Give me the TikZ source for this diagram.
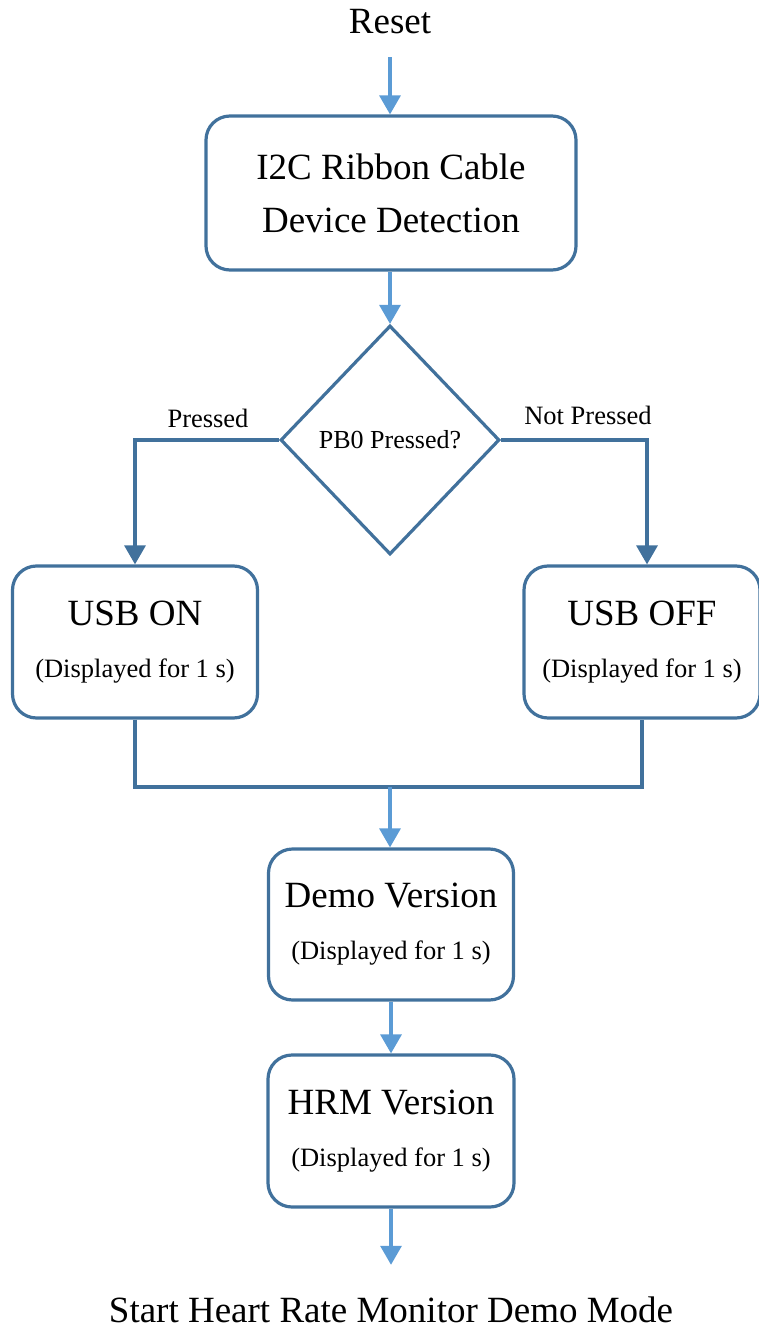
\documentclass[tikz,border=0pt]{standalone}
\usepackage{fontspec}
\setmainfont{Liberation Serif}
\usetikzlibrary{arrows.meta,shapes.geometric}
\definecolor{boxblue}{RGB}{65,113,156}
\definecolor{arrowblue}{RGB}{91,155,213}
\begin{document}
\begin{tikzpicture}[x=1pt,y=-1pt,
  box/.style={draw=boxblue, line width=3.2pt, rounded corners=24pt, fill=white,
    inner sep=0pt, align=center, font=\fontsize{26.5}{52}\selectfont},
  bigtext/.style={font=\fontsize{37}{53}\selectfont},
  smalltext/.style={font=\fontsize{26.5}{30}\selectfont, inner sep=0pt},
  decision/.style={draw=boxblue, line width=3.2pt, diamond, aspect=0.956,
    minimum width=219pt, minimum height=229pt, inner sep=0pt,
    font=\fontsize{26}{30}\selectfont},
  lightarrow/.style={draw=arrowblue, line width=3.2pt, -{Triangle[width=21pt,length=19pt]}},
  darkarrow/.style={draw=boxblue, line width=3.2pt, -{Triangle[width=21pt,length=19pt]}},
  darkline/.style={draw=boxblue, line width=3.2pt},
  ]
\useasboundingbox (0,0) rectangle (759,1329);

\node[bigtext, inner sep=0pt] (reset) at (390,22) {Reset};
\node[box, bigtext, minimum width=370pt, minimum height=154pt] (i2c) at (391,193)
  {I2C Ribbon Cable\\Device Detection};
\node[decision] (dec) at (390,440) {PB0 Pressed?};
\node[smalltext] (lp) at (208,418) {Pressed};
\node[smalltext] (lnp) at (588,415) {Not Pressed};

\node[box, minimum width=245pt, minimum height=152pt] (usbon) at (135,642)
  {{\fontsize{37}{52}\selectfont USB ON}\\(Displayed for 1 s)};
\node[box, minimum width=236pt, minimum height=152pt] (usboff) at (642,642)
  {{\fontsize{37}{52}\selectfont USB OFF}\\(Displayed for 1 s)};
\coordinate (merge) at (390,787);
\node[box, minimum width=245pt, minimum height=151pt] (demo) at (391,924.5)
  {{\fontsize{37}{56}\selectfont Demo Version}\\(Displayed for 1 s)};
\node[box, minimum width=246pt, minimum height=152pt] (hrm) at (391,1131)
  {{\fontsize{37}{52}\selectfont HRM Version}\\(Displayed for 1 s)};
\node[bigtext, inner sep=0pt] (start) at (391,1310) {Start Heart Rate Monitor Demo Mode};

\draw[lightarrow, shorten <=23pt] (reset) -- (reset |- i2c.north);
\draw[lightarrow] (dec.north |- i2c.south) -- (dec.north);
\draw[darkarrow] (dec.west) -| (usbon.north);
\draw[darkarrow] (dec.east) -| ([xshift=5pt]usboff.north);
\draw[darkline] (usbon.south) |- (merge) -| (usboff.south);
\draw[lightarrow] (merge) -- (merge |- demo.north);
\draw[lightarrow] (demo) -- (hrm);
\draw[lightarrow, shorten >=32pt] (hrm) -- (start);
\end{tikzpicture}
\end{document}
